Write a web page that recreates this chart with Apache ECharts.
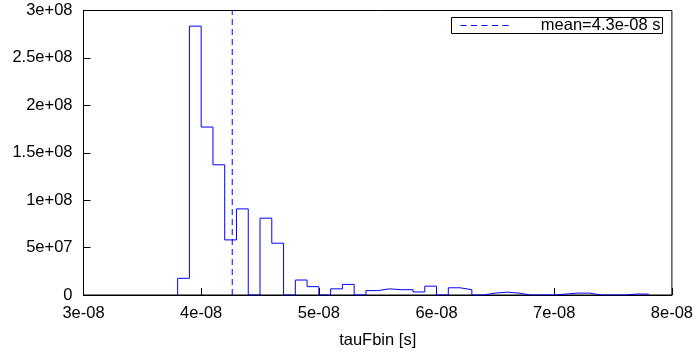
<!DOCTYPE html>
<html>
<head>
<meta charset="utf-8">
<script src="https://cdn.jsdelivr.net/npm/echarts@6/dist/echarts.min.js"></script>
<style>
html,body{margin:0;padding:0;background:#fff;}
#chart{width:696px;height:354px;}
</style>
</head>
<body>
<div id="chart"></div>
<script>
// Bin starts in nanoseconds (bin width 1 ns = 1e-09 s)
const binStartsNs = [38,39,40,41,42,43,44,45,46,47,48,49,50,51,52,53,54,55,56,57,58,59,60,61,62,63,64,65,66,67,68,69,70,71,72,73,74,75,76,77];
const binWidthNs = 1;
const counts = [1.76e7,2.835e8,1.771e8,1.373e8,5.81e7,9.08e7,0,8.1e7,5.46e7,0,1.58e7,8.8e6,0,6.5e6,1.12e7,0,4.6e6,6.5e6,5.6e6,5.6e6,3.2e6,9.3e6,0,7.6e6,5.6e6,0,2.0e6,3.0e6,2.0e6,0,0,0,1.0e6,2.0e6,2.0e6,0,0,0,1.0e6,1.0e6];
const meanNs = 42.64;
const meanLabel = 'mean=4.3e-08 s';
const xTickLabels = ['3e-08','4e-08','5e-08','6e-08','7e-08','8e-08'];
const yTickLabels = ['0','5e+07','1e+08','1.5e+08','2e+08','2.5e+08','3e+08'];
const xAxisTitle = 'tauFbin [s]';

// build histogram step outline
const steps = [];
steps.push([binStartsNs[0], 0]);
for (let i = 0; i < binStartsNs.length; i++) {
  steps.push([binStartsNs[i], counts[i]]);
  steps.push([binStartsNs[i] + binWidthNs, counts[i]]);
}
steps.push([binStartsNs[binStartsNs.length-1] + binWidthNs, 0]);

const FONT = "'Liberation Sans', Arial, sans-serif";
const FS = 16.5;

const chart = echarts.init(document.getElementById('chart'), null, {renderer:'canvas'});
chart.setOption({
  animation: false,
  backgroundColor: '#fff',
  grid: {left: 83.5, right: 22.5, top: 10.5, bottom: 58.5, show: true, borderColor: '#000', borderWidth: 1, backgroundColor: 'transparent'},
  xAxis: {
    type: 'value', min: 30, max: 80, interval: 10,
    name: xAxisTitle, nameLocation: 'middle', nameGap: 37,
    nameTextStyle: {fontFamily: FONT, fontSize: FS, color: '#000'},
    axisLine: {show: true, lineStyle: {color: '#000', width: 1}},
    axisTick: {show: true, inside: true, length: 7, lineStyle: {color: '#000'}},
    axisLabel: {margin: 10, fontFamily: FONT, fontSize: FS, color: '#000',
      formatter: v => xTickLabels[Math.round((v - 30) / 10)]},
    splitLine: {show: false}
  },
  yAxis: {
    type: 'value', min: 0, max: 3e8, interval: 5e7,
    axisLine: {show: true, lineStyle: {color: '#000', width: 1}},
    axisTick: {show: true, inside: true, length: 7, lineStyle: {color: '#000'}},
    axisLabel: {margin: 11, fontFamily: FONT, fontSize: FS, color: '#000',
      formatter: v => yTickLabels[Math.round(v / 5e7)]},
    splitLine: {show: false}
  },
  series: [
    {
      type: 'line', data: steps, symbol: 'none', silent: true,
      lineStyle: {color: '#0000ff', width: 1}, z: 3
    },
    {
      type: 'line', data: [[meanNs, 0], [meanNs, 3e8]], symbol: 'none', silent: true,
      lineStyle: {color: '#0000ff', width: 1, type: [6, 4]}, z: 4
    }
  ],
  graphic: [
    {type: 'rect', shape: {x: 451.5, y: 17.5, width: 211, height: 16},
     style: {fill: '#fff', stroke: '#000', lineWidth: 1}, z: 10},
    {type: 'line', shape: {x1: 460.5, y1: 25.5, x2: 508.5, y2: 25.5},
     style: {stroke: '#0000ff', lineWidth: 1, lineDash: [6, 4.5]}, z: 11},
    {type: 'text', x: 660.5, y: 25.5,
     style: {text: meanLabel, fill: '#000', font: FS + 'px ' + FONT, align: 'right', verticalAlign: 'middle'}, z: 11}
  ]
});
</script>
</body>
</html>
